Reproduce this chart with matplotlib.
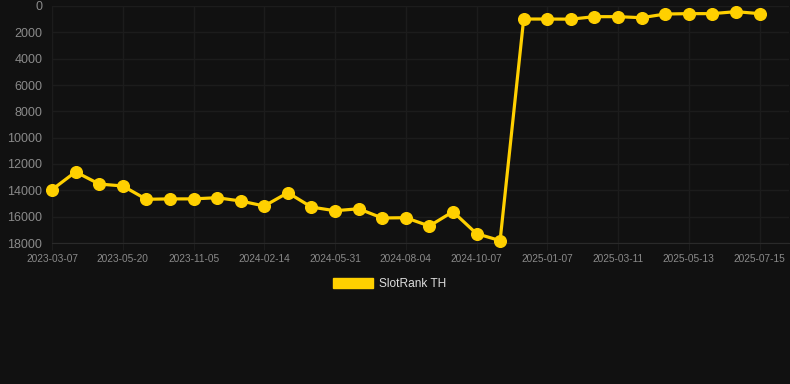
import matplotlib
matplotlib.use("Agg")
import matplotlib.pyplot as plt
from matplotlib.patches import Patch

dates = ["2023-03-07", "2023-03-31", "2023-04-25", "2023-05-20", "2023-07-15", "2023-09-10",
         "2023-11-05", "2023-12-10", "2024-01-12", "2024-02-14", "2024-03-20", "2024-04-25",
         "2024-05-31", "2024-06-21", "2024-07-13", "2024-08-04", "2024-08-25", "2024-09-16",
         "2024-10-07", "2024-10-29", "2024-11-20", "2025-01-07", "2025-01-28", "2025-02-18",
         "2025-03-11", "2025-04-01", "2025-04-22", "2025-05-13", "2025-06-03", "2025-06-24",
         "2025-07-15"]
ranks = [13950, 12600, 13520, 13670, 14680, 14650, 14650, 14560, 14810, 15190, 14180,
         15270, 15550, 15400, 16100, 16080, 16710, 15620, 17290, 17820, 990, 990, 1000,
         810, 810, 890, 610, 580, 580, 430, 580]
series_name = "SlotRank TH"
y_ticks = [0, 2000, 4000, 6000, 8000, 10000, 12000, 14000, 16000, 18000]

BG = "#111111"
GRID = "#1c1c1c"
GOLD = "#FFD000"

plt.rcParams['font.family'] = ['Liberation Sans', 'DejaVu Sans']
fig = plt.figure(figsize=(7.9, 3.84), dpi=100, facecolor=BG)
ax = fig.add_axes([52/790, 1 - 243/384, (789 - 52)/790, (243 - 6)/384])
ax.set_facecolor(BG)

x = list(range(len(ranks)))
ax.plot(x, ranks, color=GOLD, linewidth=2.3, marker="o", markersize=8.4,
        markerfacecolor=GOLD, markeredgecolor=GOLD, zorder=3, clip_on=False)

ax.set_xlim(0, 31.25)
ax.set_ylim(18000, 0)
ax.set_yticks(y_ticks)
ax.set_yticklabels([str(v) for v in y_ticks])
tick_idx = list(range(0, len(dates), 3))
ax.set_xticks(tick_idx)
ax.set_xticklabels([dates[i] for i in tick_idx])

ax.grid(True, color=GRID, linewidth=1)
ax.set_axisbelow(True)
for s in ax.spines.values():
    s.set_visible(False)
ax.spines['bottom'].set_visible(True)
ax.spines['bottom'].set_color("#2a2a2a")
ax.tick_params(axis='y', colors="#8a8a8a", labelsize=9, length=0, pad=7)
ax.tick_params(axis='x', colors=GRID, labelcolor="#8a8a8a", labelsize=7.3, length=5, pad=3)

handle = Patch(facecolor=GOLD, edgecolor=GOLD, label=series_name)
leg = fig.legend(handles=[handle], loc="center", bbox_to_anchor=(0.5 - 5/790, 1 - 284/384),
                 frameon=False, fontsize=8.6, handlelength=3.35, handleheight=1.0,
                 handletextpad=0.5, labelcolor="#dddddd")

fig.savefig("out.png", dpi=100, facecolor=BG)
